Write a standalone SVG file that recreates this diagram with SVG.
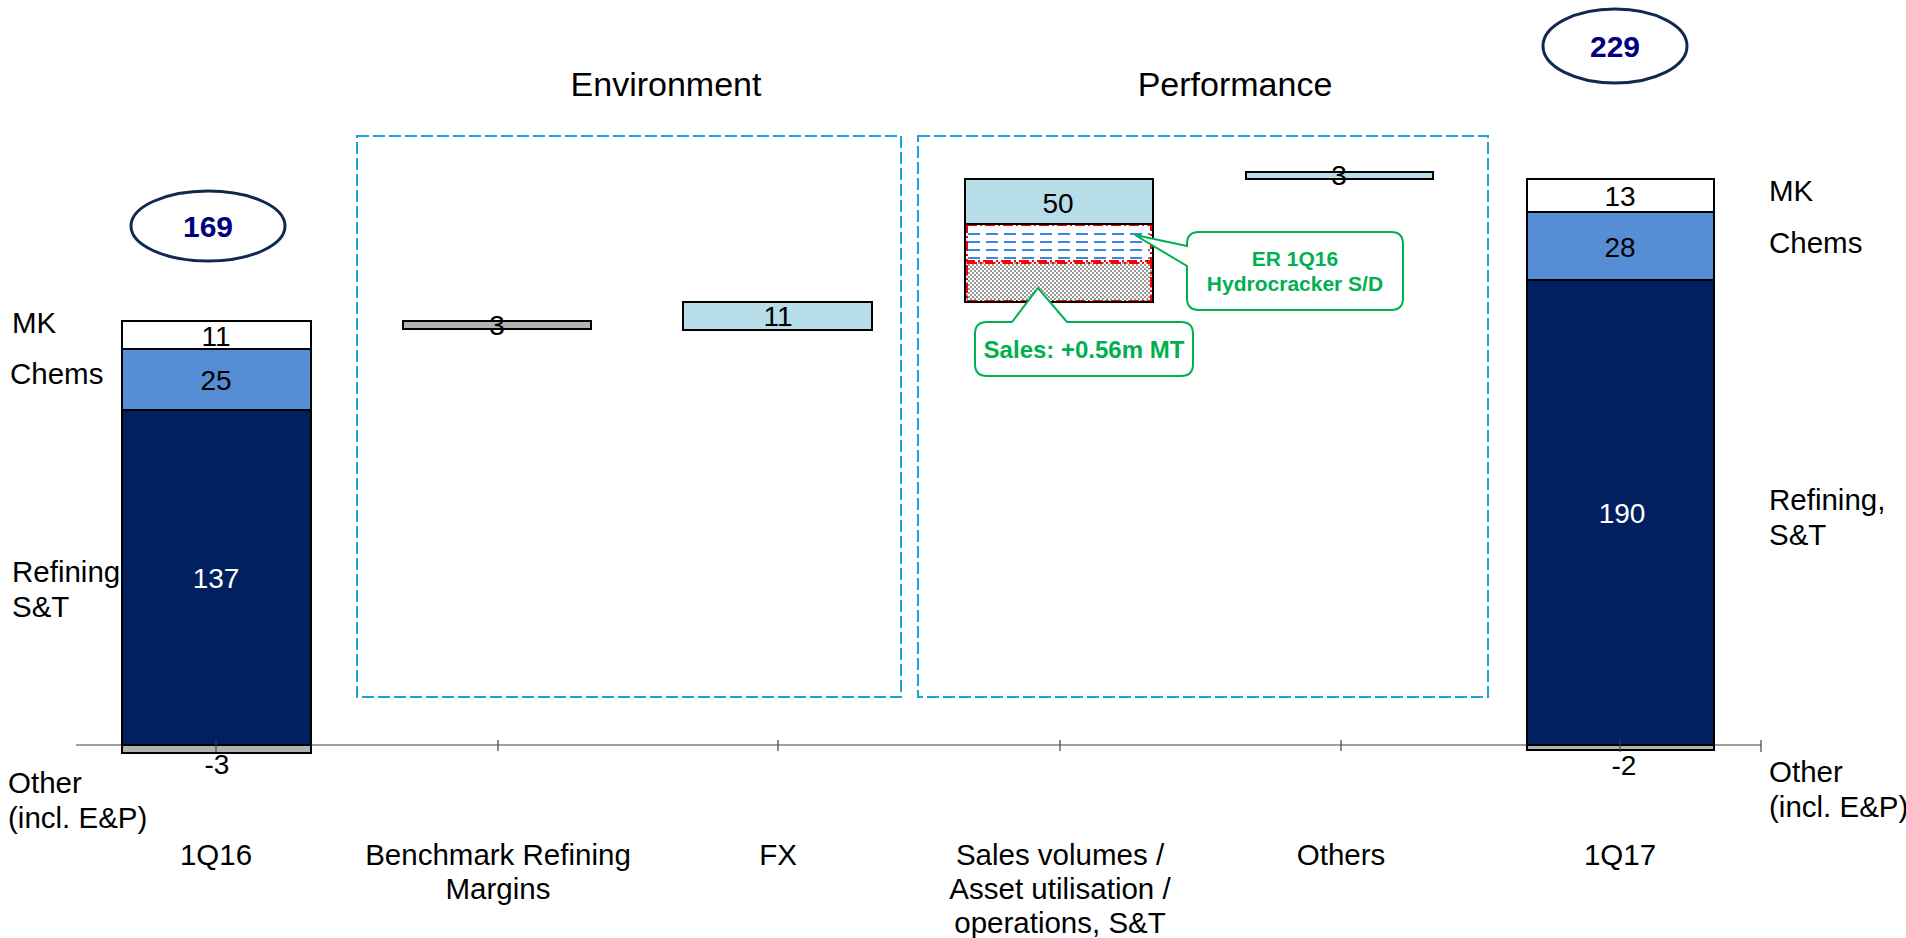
<svg xmlns="http://www.w3.org/2000/svg" width="1906" height="938" viewBox="0 0 1906 938">
  <style>
    text { font-family: "Liberation Sans", Arial, sans-serif; fill: #000; }
    .lbl { font-size: 29.5px; }
    .ttl { font-size: 34px; }
    .mid { text-anchor: middle; }
    .val { font-size: 28px; text-anchor: middle; }
    .wval { font-size: 28px; text-anchor: middle; fill: #fff; }
    .tot { font-size: 30px; font-weight: bold; text-anchor: middle; fill: #000080; }
    .note { font-size: 21px; font-weight: bold; text-anchor: middle; fill: #00B050; }
    .seg { stroke: #000; stroke-width: 2; }
    .navy { fill: #002060; }
    .chem { fill: #558ED5; }
    .mk { fill: #FFFFFF; }
    .lt { fill: #B7DDE8; }
    .gry { fill: #B2B2B2; }
    .grp { fill: none; stroke: #1BA3DA; stroke-width: 2; stroke-dasharray: 12 4; }
    .oval { fill: #fff; stroke: #0F2A4D; stroke-width: 3; }
    .call { fill: #fff; stroke: #00B050; stroke-width: 2; }
    .axis { stroke: #808080; stroke-width: 1.5; fill: none; }
    .tick { stroke: #404040; stroke-width: 1.2; }
  </style>
  <defs>
    <pattern id="checker" width="4" height="4" patternUnits="userSpaceOnUse">
      <rect width="4" height="4" fill="#fff"/>
      <rect width="2" height="2" fill="#9A9A9A"/>
      <rect x="2" y="2" width="2" height="2" fill="#9A9A9A"/>
    </pattern>
  </defs>

  <rect width="1906" height="938" fill="#fff"/>

  <!-- group frames and headings -->
  <g id="environment">
    <rect class="grp" x="357" y="136" width="544" height="561"/>
    <text class="ttl mid" x="666" y="96">Environment</text>
  </g>
  <g id="performance">
    <rect class="grp" x="918" y="136" width="570" height="561"/>
    <text class="ttl mid" x="1235" y="96">Performance</text>
  </g>

  <!-- axis -->
  <g id="axis">
    <line class="axis" x1="76" y1="745" x2="1761" y2="745"/>
  </g>

  <!-- left segment legend (drawn under the bar) -->
  <g id="legend-left">
    <text class="lbl" x="12" y="333">MK</text>
    <text class="lbl" x="10" y="384">Chems</text>
    <text class="lbl" x="12" y="582">Refining,</text>
    <text class="lbl" x="12" y="617">S&amp;T</text>
    <text class="lbl" x="8" y="793">Other</text>
    <text class="lbl" x="8" y="828">(incl. E&amp;P)</text>
  </g>

  <!-- 1Q16 stacked bar -->
  <g id="bar-1q16">
    <rect class="seg navy" x="122" y="410" width="189" height="335"/>
    <rect class="seg chem" x="122" y="349" width="189" height="61"/>
    <rect class="seg mk" x="122" y="321" width="189" height="28"/>
    <rect class="seg gry" x="122" y="745" width="189" height="8"/>
    <text class="val" x="216" y="346">11</text>
    <text class="val" x="216" y="390">25</text>
    <text class="wval" x="216" y="588">137</text>
    <text class="val" x="217" y="774">-3</text>
  </g>
  <g id="total-1q16">
    <ellipse class="oval" cx="208" cy="226" rx="77" ry="35"/>
    <text class="tot" x="208" y="237">169</text>
  </g>

  <!-- Benchmark refining margins -->
  <g id="bar-margins">
    <rect class="seg gry" x="403" y="321" width="188" height="8"/>
    <text class="val" x="497" y="335">3</text>
  </g>

  <!-- FX -->
  <g id="bar-fx">
    <rect class="seg lt" x="683" y="302" width="189" height="28"/>
    <text class="val" x="778" y="326">11</text>
  </g>

  <!-- Sales volumes / asset utilisation -->
  <g id="bar-sales">
    <rect class="lt" x="965" y="179" width="188" height="45"/>
    <rect fill="#fff" x="965" y="224" width="188" height="38"/>
    <g stroke="#3A86E8" stroke-width="2" stroke-dasharray="12 6">
      <line x1="968" y1="234" x2="1150" y2="234"/>
      <line x1="968" y1="242" x2="1150" y2="242"/>
      <line x1="968" y1="250" x2="1150" y2="250"/>
      <line x1="968" y1="258" x2="1150" y2="258"/>
    </g>
    <rect fill="url(#checker)" x="965" y="262" width="188" height="40"/>
    <g fill="none" stroke="#FF0000" stroke-width="2" stroke-dasharray="10 3 2 3">
      <rect x="967" y="225" width="184" height="36"/>
      <rect x="967" y="263" width="184" height="38"/>
    </g>
    <rect fill="none" class="seg" x="965" y="179" width="188" height="123"/>
    <line class="seg" x1="965" y1="224" x2="1153" y2="224"/>
    <text class="val" x="1058" y="213">50</text>
  </g>
  <g id="note-er">
    <path class="call" d="M1199,232 H1391 Q1403,232 1403,244 V298 Q1403,310 1391,310 H1199 Q1187,310 1187,298 V266 L1135,235 L1187,246 V244 Q1187,232 1199,232 Z"/>
    <text class="note" x="1295" y="266">ER 1Q16</text>
    <text class="note" x="1295" y="291">Hydrocracker S/D</text>
  </g>
  <g id="note-sales">
    <path class="call" d="M987,322 H1012 L1038,288 L1067,322 H1181 Q1193,322 1193,334 V364 Q1193,376 1181,376 H987 Q975,376 975,364 V334 Q975,322 987,322 Z"/>
    <text class="note" x="1084" y="358" style="font-size:24px">Sales: +0.56m MT</text>
  </g>

  <!-- Others -->
  <g id="bar-others">
    <rect class="seg lt" x="1246" y="172" width="187" height="7"/>
    <text class="val" x="1339" y="185">3</text>
  </g>

  <!-- 1Q17 stacked bar -->
  <g id="bar-1q17">
    <rect class="seg navy" x="1527" y="280" width="187" height="465"/>
    <rect class="seg chem" x="1527" y="212" width="187" height="68"/>
    <rect class="seg mk" x="1527" y="179" width="187" height="33"/>
    <rect class="seg gry" x="1527" y="745" width="187" height="5"/>
    <text class="val" x="1620" y="206">13</text>
    <text class="val" x="1620" y="257">28</text>
    <text class="wval" x="1622" y="523">190</text>
    <text class="val" x="1624" y="775">-2</text>
  </g>
  <g id="total-1q17">
    <ellipse class="oval" cx="1615" cy="46" rx="72" ry="37"/>
    <text class="tot" x="1615" y="57">229</text>
  </g>
  <g id="legend-right">
    <text class="lbl" x="1769" y="201">MK</text>
    <text class="lbl" x="1769" y="253">Chems</text>
    <text class="lbl" x="1769" y="510">Refining,</text>
    <text class="lbl" x="1769" y="545">S&amp;T</text>
    <text class="lbl" x="1769" y="782">Other</text>
    <text class="lbl" x="1769" y="817">(incl. E&amp;P)</text>
  </g>

  <!-- axis ticks -->
  <g id="ticks">
    <line class="tick" x1="216" y1="739" x2="216" y2="752"/>
    <line class="tick" x1="498" y1="740" x2="498" y2="751"/>
    <line class="tick" x1="778" y1="740" x2="778" y2="751"/>
    <line class="tick" x1="1060" y1="740" x2="1060" y2="751"/>
    <line class="tick" x1="1341" y1="740" x2="1341" y2="751"/>
    <line class="tick" x1="1620" y1="739" x2="1620" y2="752"/>
    <line class="tick" x1="1761" y1="740" x2="1761" y2="752"/>
  </g>

  <!-- category labels -->
  <g id="categories">
    <text class="lbl mid" x="216" y="865">1Q16</text>
    <text class="lbl mid" x="498" y="865">Benchmark Refining</text>
    <text class="lbl mid" x="498" y="899">Margins</text>
    <text class="lbl mid" x="778" y="865">FX</text>
    <text class="lbl mid" x="1060" y="865">Sales volumes /</text>
    <text class="lbl mid" x="1060" y="899">Asset utilisation /</text>
    <text class="lbl mid" x="1060" y="933">operations, S&amp;T</text>
    <text class="lbl mid" x="1341" y="865">Others</text>
    <text class="lbl mid" x="1620" y="865">1Q17</text>
  </g>
</svg>
